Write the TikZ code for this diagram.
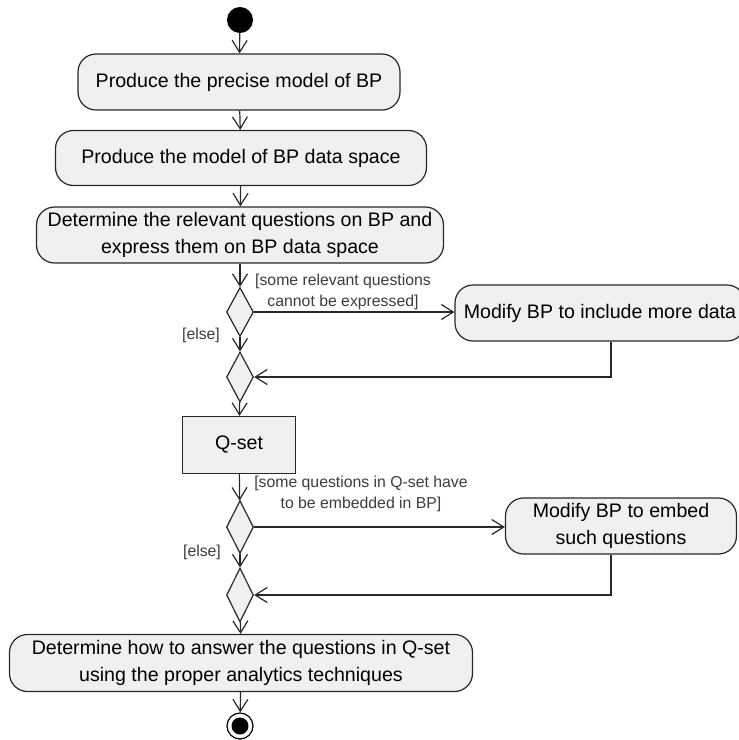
\documentclass[tikz,border=0pt]{standalone}
\usepackage{fontspec}
\setmainfont{Liberation Sans}
\usetikzlibrary{shapes.geometric,arrows.meta}
\definecolor{boxfill}{RGB}{240,240,240}
\definecolor{edgecol}{RGB}{40,40,40}
\definecolor{labcol}{RGB}{60,60,60}
\tikzset{
  action/.style={draw=edgecol, fill=boxfill, rounded corners=18pt, line width=1.2pt,
    align=center, font=\fontsize{19.6}{27}\selectfont, inner sep=0pt},
  qbox/.style={draw=edgecol, fill=boxfill, line width=1.2pt, align=center,
    font=\fontsize{19.6}{27}\selectfont, inner sep=0pt},
  decision/.style={diamond, draw=edgecol, fill=boxfill, line width=1.2pt, inner sep=0pt,
    minimum width=27pt},
  flow/.style={draw=edgecol, line width=1.2pt,
    -{Straight Barb[length=12pt,width=15pt,line width=1.2pt]}},
  guard/.style={font=\fontsize{15.8}{21}\selectfont, text=labcol, align=center, inner sep=0pt},
  initnode/.style={circle, fill=black, minimum size=26pt, inner sep=0pt},
  finalouter/.style={circle, draw=black, fill=white, line width=1.2pt, minimum size=26pt, inner sep=0pt},
  finalinner/.style={circle, fill=black, minimum size=17pt, inner sep=0pt},
}
\begin{document}
\begin{tikzpicture}[x=1pt,y=-1pt]
\useasboundingbox (0,0) rectangle (739,740);

\node[initnode] (start) at (240,20) {};
\node[action, minimum width=322pt, minimum height=56pt] (b1) at (239,82) {Produce the precise model of BP};
\node[action, minimum width=371pt, minimum height=55pt] (b2) at (241,158) {Produce the model of BP data space};
\node[action, minimum width=407pt, minimum height=56pt] (b3) at (240,235) {Determine the relevant questions on BP and\\express them on BP data space};
\node[decision, minimum height=49pt] (d1) at (240,312) {};
\node[action, minimum width=290pt, minimum height=56pt] (m1) at (600,313) {Modify BP to include more data};
\node[decision, minimum height=50pt] (d2) at (240,377) {};
\node[qbox, minimum width=113pt, minimum height=57pt] (q) at (239,445) {Q-set};
\node[decision, minimum height=53pt] (d3) at (240,527) {};
\node[action, minimum width=231pt, minimum height=56pt] (m2) at (621,526) {Modify BP to embed\\such questions};
\node[decision, minimum height=54pt] (d4) at (240,595) {};
\node[action, minimum width=463pt, minimum height=57pt] (b4) at (241,663) {Determine how to answer the questions in Q-set\\using the proper analytics techniques};
\node[finalouter] (endo) at (240,726) {};
\node[finalinner] (endi) at (240,726) {};

\node[guard] (g1) at (343,292) {{[}some relevant questions\\cannot be expressed]};
\node[guard] (e1) at (201,335) {{[}else]};
\node[guard] (g2) at (361,494) {{[}some questions in Q-set have\\to be embedded in BP]};
\node[guard] (e2) at (202,552) {{[}else]};

\draw[flow] (start) -- (b1);
\draw[flow] (b1) -- (b2);
\draw[flow] (b2) -- (b3);
\draw[flow] (b3) -- (d1);
\draw[flow] (d1.east) -- (d1.east -| m1.west);
\draw[flow] (d1) -- (d2);
\draw[flow] ([xshift=11pt]m1.south) |- (d2.east);
\draw[flow] (d2) -- (q);
\draw[flow] (q) -- (d3);
\draw[flow] (d3.east) -- (d3.east -| m2.west);
\draw[flow] (d3) -- (d4);
\draw[flow] ([xshift=-10pt]m2.south) |- (d4.east);
\draw[flow] (d4) -- (b4);
\draw[flow] (b4) -- (endo);
\end{tikzpicture}
\end{document}
